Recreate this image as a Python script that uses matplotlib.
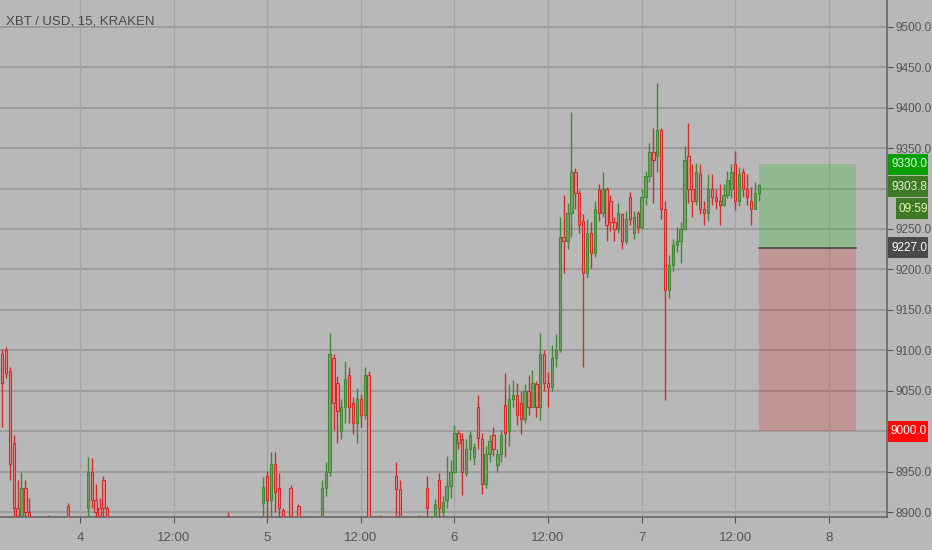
import matplotlib
matplotlib.use("Agg")
import matplotlib.pyplot as plt
import matplotlib.transforms as mtransforms
from matplotlib.patches import Rectangle

# half-hour slots counted from day 3, 14:00 (slot 20 = day 4 00:00)
slots = [0, 1, 2, 3, 4, 5, 6, 7, 12, 17,
         22, 23, 24, 25, 26, 27, 58, 67, 68, 69,
         70, 71, 72, 74, 76, 78, 82, 83, 84, 85,
         86, 87, 88, 89, 90, 91, 92, 93, 94, 97,
         101, 102, 107, 109, 111, 112, 113, 114, 115, 116,
         117, 118, 119, 120, 121, 122, 123, 124, 125, 126,
         127, 128, 129, 130, 131, 132, 133, 134, 135, 136,
         137, 138, 139, 140, 141, 142, 143, 144, 145, 146,
         147, 148, 149, 150, 151, 152, 153, 154, 155, 156,
         157, 158, 159, 160, 161, 162, 163, 164, 165, 166,
         167, 168, 169, 170, 171, 172, 173, 174, 175, 176,
         177, 178, 179, 180, 181, 182, 183, 184, 185, 186,
         187, 188, 189, 190, 191, 192, 193, 194]
opens = [9095, 9100, 9075, 8985, 8905, 8895, 8930, 8900, 8885, 8908,
         8905, 8950, 8915, 8905, 8940, 8905, 8895, 8911, 8945, 8915,
         8960, 8930, 8903, 8930, 8908, 8890, 8890, 8930, 8950, 9090,
         9060, 9000, 9030, 9070, 9035, 9010, 9040, 9020, 9070, 8890,
         8945, 8928, 8890, 8930, 8890, 8940, 8900, 8915, 8932, 8950,
         8998, 8990, 8948, 8978, 8968, 9030, 8990, 8935, 8972, 8995,
         8958, 8972, 9032, 9000, 9040, 9045, 9035, 9015, 9050, 9030,
         9058, 9030, 9095, 9060, 9055, 9090, 9100, 9240, 9235, 9270,
         9320, 9295, 9260, 9195, 9245, 9220, 9298, 9270, 9300, 9285,
         9258, 9250, 9268, 9235, 9290, 9245, 9270, 9252, 9290, 9315,
         9345, 9340, 9372, 9275, 9175, 9205, 9230, 9235, 9250, 9340,
         9300, 9285, 9318, 9275, 9270, 9300, 9290, 9285, 9280, 9292,
         9300, 9330, 9285, 9320, 9300, 9285, 9275, 9295]
highs = [9102, 9104, 9080, 8995, 8940, 8950, 8940, 8918, 8896, 8911,
         8968, 8967, 8935, 8918, 8945, 8907, 8900, 8943, 8951, 8974,
         8974, 8948, 8905, 8933, 8910, 8895, 8940, 8962, 9121, 9095,
         9068, 9040, 9087, 9080, 9042, 9054, 9046, 9080, 9075, 8896,
         8962, 8940, 8896, 8945, 8916, 8948, 8920, 8970, 8965, 9008,
         9002, 8998, 8990, 9000, 8985, 9045, 8998, 8982, 8995, 9005,
         8978, 9002, 9072, 9058, 9063, 9060, 9050, 9058, 9070, 9076,
         9062, 9121, 9100, 9073, 9106, 9120, 9265, 9292, 9282, 9395,
         9325, 9298, 9268, 9262, 9258, 9285, 9305, 9320, 9302, 9292,
         9265, 9282, 9270, 9272, 9296, 9272, 9272, 9300, 9322, 9356,
         9375, 9431, 9375, 9285, 9218, 9238, 9253, 9258, 9352, 9381,
         9330, 9332, 9330, 9285, 9318, 9318, 9300, 9305, 9305, 9322,
         9330, 9346, 9326, 9325, 9318, 9302, 9308, 9305]
lows = [9005, 9066, 8940, 8890, 8885, 8890, 8885, 8880, 8870, 8880,
        8880, 8905, 8890, 8885, 8885, 8880, 8875, 8885, 8890, 8895,
        8900, 8885, 8880, 8885, 8885, 8875, 8882, 8920, 8945, 9001,
        8985, 8990, 9010, 9010, 8997, 8985, 9005, 9015, 8870, 8875,
        8885, 8882, 8875, 8885, 8882, 8885, 8888, 8905, 8918, 8948,
        8978, 8921, 8945, 8964, 8958, 8978, 8923, 8930, 8962, 8970,
        8950, 8962, 8968, 8982, 9030, 9008, 8997, 9010, 9020, 9030,
        9018, 9014, 9050, 9030, 9050, 9080, 9098, 9195, 9225, 9240,
        9275, 9245, 9079, 9190, 9202, 9215, 9260, 9265, 9235, 9248,
        9235, 9245, 9225, 9232, 9255, 9238, 9245, 9250, 9280, 9308,
        9282, 9320, 9262, 9038, 9165, 9198, 9222, 9208, 9250, 9282,
        9265, 9280, 9268, 9255, 9260, 9280, 9275, 9255, 9278, 9288,
        9288, 9273, 9278, 9290, 9280, 9255, 9275, 9285]
closes = [9060, 9072, 8960, 8905, 8895, 8930, 8900, 8890, 8880, 8890,
          8950, 8915, 8900, 8895, 8905, 8890, 8885, 8931, 8915, 8960,
          8925, 8905, 8890, 8895, 8892, 8885, 8930, 8950, 9096, 9035,
          9025, 9030, 9065, 9030, 9010, 9040, 9020, 9070, 8890, 8885,
          8928, 8890, 8885, 8905, 8910, 8905, 8912, 8932, 8950, 8998,
          8985, 8950, 8978, 8995, 8980, 8992, 8935, 8972, 8988, 8978,
          8972, 8995, 8998, 9040, 9045, 9020, 9015, 9050, 9030, 9060,
          9030, 9095, 9060, 9055, 9090, 9100, 9240, 9235, 9270, 9320,
          9295, 9255, 9195, 9245, 9220, 9275, 9270, 9300, 9255, 9258,
          9250, 9270, 9235, 9262, 9262, 9265, 9252, 9290, 9315, 9345,
          9335, 9372, 9275, 9175, 9205, 9230, 9235, 9250, 9335, 9300,
          9285, 9320, 9275, 9270, 9300, 9290, 9285, 9280, 9292, 9310,
          9320, 9285, 9318, 9300, 9290, 9275, 9295, 9303.8]

tick_slots = [20, 44, 68, 92, 116, 140, 164, 188, 212]
tick_labels = ["4", "12:00", "5", "12:00", "6", "12:00", "7", "12:00", "8"]
price_ticks = [8900, 8950, 9000, 9050, 9100, 9150, 9200, 9250, 9300, 9350, 9400, 9450, 9500]

entry_price = 9227.0
target_price = 9330.0
stop_price = 9000.0
last_price = 9303.8
countdown = "09:59"
box_start, box_end = 194, 219

plt.rcParams['font.family'] = ['Liberation Sans', 'DejaVu Sans']

bg = "#b8b8b8"
up_col = "#3f8a35"
dn_col = "#d42a2a"

fig = plt.figure(figsize=(9.32, 5.5), dpi=100, facecolor=bg)
ax = fig.add_axes([0, 33 / 550, 887 / 932, 517 / 550], facecolor=bg)
ax.set_xlim(-0.51, 226.9)
ax.set_ylim(8894, 9533)

for p in price_ticks:
    ax.axhline(p, color="#9a9a9a", lw=1.3, zorder=0)
for t in tick_slots:
    ax.axvline(t, color="#a4a4a4", lw=1.0, zorder=0)

# candles
for s, o, h, l, c in zip(slots, opens, highs, lows, closes):
    col = up_col if c >= o else dn_col
    body = "#7a9c6a" if c >= o else "#e38a8a"
    ax.vlines(s, l, h, color=col, lw=1.0, zorder=3)
    ax.add_patch(Rectangle((s - 0.3, min(o, c)), 0.6, max(abs(c - o), 1.5),
                           facecolor=body, edgecolor=col, lw=0.8, zorder=4))

# long position tool
ax.add_patch(Rectangle((box_start, entry_price), box_end - box_start, target_price - entry_price,
                       facecolor="#00c000", alpha=0.2, edgecolor="none", zorder=2))
ax.add_patch(Rectangle((box_start, stop_price), box_end - box_start, entry_price - stop_price,
                       facecolor="#f00000", alpha=0.19, edgecolor="none", zorder=2))
ax.plot([box_start, box_end], [entry_price, entry_price], color="#4a4a4a", lw=1.2, zorder=3)

# labels hidden under the price boxes are left blank
covered = [stop_price, 9300]
ax.yaxis.tick_right()
ax.set_yticks(price_ticks)
ax.set_yticklabels(["" if p in covered else f"{p:.1f}" for p in price_ticks])
ax.set_xticks(tick_slots)
ax.set_xticklabels(tick_labels)
ax.tick_params(axis="y", colors="#555555", labelcolor="#555555", labelsize=8.5, length=4, pad=2)
ax.tick_params(axis="x", colors="#555555", labelcolor="#555555", labelsize=9.5, length=4, pad=7)
for side in ["top", "left"]:
    ax.spines[side].set_visible(False)
ax.spines["right"].set_color("#666666")
ax.spines["bottom"].set_color("#666666")
ax.spines["right"].set_linewidth(1.2)
ax.spines["bottom"].set_linewidth(1.2)

# price labels on the right axis
trans = mtransforms.blended_transform_factory(ax.transAxes, ax.transData)
px_y = (9533 - 8894) / 517.0
px_x = 1 / 887.0


def price_box(y, text, fc, tc, x0=1, w=40, h=21):
    ax.add_patch(Rectangle((x0 * px_x + 1, y - h / 2 * px_y), w * px_x, h * px_y,
                           transform=trans, facecolor=fc, edgecolor="none",
                           clip_on=False, zorder=10))
    ax.text(x0 * px_x + 1 + (w / 2 + 1) * px_x, y, text, transform=trans, color=tc,
            fontsize=8.5, ha="center", va="center", clip_on=False, zorder=11)


price_box(target_price, f"{target_price:.1f}", "#06a006", "#e8ffe8")
price_box(last_price - 1.5, f"{last_price:.1f}", "#3d7a24", "#e8f2d8")
price_box(last_price - 29, countdown, "#3d7a24", "#e8f2b8", x0=9, w=32)
price_box(entry_price, f"{entry_price:.1f}", "#4a4a4a", "#ffffff")
price_box(stop_price, f"{stop_price:.1f}", "#ff0a0a", "#ffffff")

fig.text(6 / 932, 1 - 21 / 550, "XBT / USD, 15, KRAKEN", color="#4a4a4a",
         fontsize=9.5, ha="left", va="center")

fig.savefig("out.png", dpi=100, facecolor=bg)
